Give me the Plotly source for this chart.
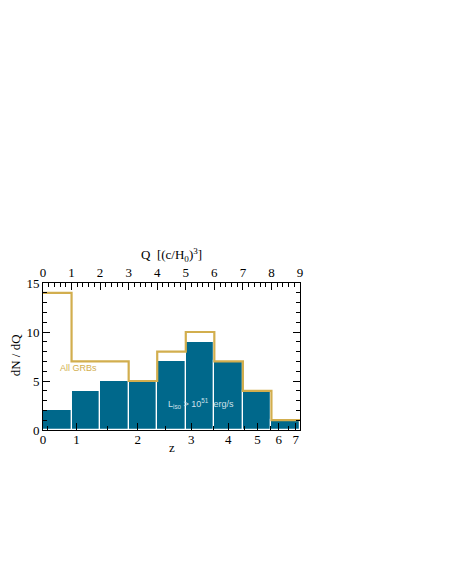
import plotly.graph_objects as go

# Q bins (volume, in (c/H0)^3)
q_edges = [0, 1, 2, 3, 4, 5, 6, 7, 8, 9]
liso_counts = [2, 4, 5, 5, 7, 9, 7, 4, 1]          # L_iso > 1e51 erg/s
all_counts = [14, 7, 7, 5, 8, 10, 7, 4, 1]          # All GRBs

# redshift axis (bottom): labels and their Q positions
z_labels = ["0", "1", "2", "3", "4", "5", "6", "7"]
z_label_q = [0.0, 1.17, 3.32, 5.19, 6.49, 7.51, 8.26, 8.85]
z_minor_q = [0.15, 2.25, 4.30, 5.97, 7.05, 7.97, 8.60]

q_centers = [(a + b) / 2 for a, b in zip(q_edges[:-1], q_edges[1:])]

BLUE = "#00688B"
GOLD = "#D2AE4E"
SERIF = "Liberation Serif, Times New Roman, serif"
SANS = "Liberation Sans, Arial, sans-serif"

fig = go.Figure()
fig.add_trace(go.Bar(
    x=q_centers, y=liso_counts, width=1.0,
    marker=dict(color=BLUE, line=dict(color="white", width=1.2)),
    showlegend=False, hoverinfo="skip",
))
fig.add_trace(go.Scatter(
    x=q_edges, y=all_counts + [all_counts[-1]],
    mode="lines", line=dict(color=GOLD, width=2.2, shape="hv"),
    showlegend=False, hoverinfo="skip",
))
fig.add_trace(go.Scatter(x=[None], y=[None], xaxis="x2", showlegend=False,
                         hoverinfo="skip"))

fig.update_layout(
    width=442, height=574,
    margin=dict(l=35, r=150, t=275, b=152),
    paper_bgcolor="white", plot_bgcolor="white",
    font=dict(family=SERIF, size=13, color="black"),
    bargap=0,
    xaxis=dict(
        side="top", range=[0, 9], showgrid=False, zeroline=False, automargin=False,
        showline=True, linecolor="black", linewidth=1, mirror=False,
        tickmode="array", tickvals=list(range(10)),
        ticks="inside", ticklen=7, tickcolor="black", tickwidth=1,
        minor=dict(dtick=0.2, ticks="inside", ticklen=4, tickcolor="black", tickwidth=1),
        tickfont=dict(family=SERIF, size=13, color="black"),
    ),
    xaxis2=dict(
        overlaying="x", side="bottom", anchor="y", range=[0, 9], automargin=False,
        showgrid=False, zeroline=False,
        showline=True, linecolor="black", linewidth=1,
        tickmode="array", tickvals=z_label_q, ticktext=z_labels,
        ticks="inside", ticklen=7, tickcolor="black", tickwidth=1,
        ticklabelstandoff=-3,
        minor=dict(tickvals=z_minor_q, ticks="inside", ticklen=4,
                   tickcolor="black", tickwidth=1),
        tickfont=dict(family=SERIF, size=13, color="black"),
    ),
    yaxis=dict(
        range=[0, 15], showgrid=False, zeroline=False, automargin=False,
        showline=True, linecolor="black", linewidth=1, mirror="ticks",
        tickmode="array", tickvals=[0, 5, 10, 15],
        ticks="inside", ticklen=7, tickcolor="black", tickwidth=1,
        minor=dict(dtick=1, ticks="inside", ticklen=4, tickcolor="black", tickwidth=1),
        tickfont=dict(family=SERIF, size=13, color="black"),
    ),
    annotations=[
        dict(x=0.5, y=1.19, xref="paper", yref="paper", yanchor="middle",
             text="Q  [(c/H<sub>0</sub>)<sup>3</sup>]", showarrow=False,
             font=dict(family=SERIF, size=13, color="black")),
        dict(x=0.5, y=-0.12, xref="paper", yref="paper", yanchor="middle",
             text="z", showarrow=False,
             font=dict(family=SERIF, size=13, color="black")),
        dict(x=-0.108, y=0.51, xref="paper", yref="paper", xanchor="center",
             yanchor="middle", textangle=-90,
             text="dN / dQ", showarrow=False,
             font=dict(family=SERIF, size=13, color="black")),
        dict(x=1.24, y=6.3, xref="x", yref="y", text="All GRBs", showarrow=False,
             font=dict(family=SANS, size=9, color=GOLD)),
        dict(x=5.55, y=2.7, xref="x", yref="y",
             text="L<sub>iso</sub> > 10<sup>51</sup>  erg/s", showarrow=False,
             font=dict(family=SANS, size=9, color="#cfe0ea")),
    ],
)

fig.write_html("out.html")
